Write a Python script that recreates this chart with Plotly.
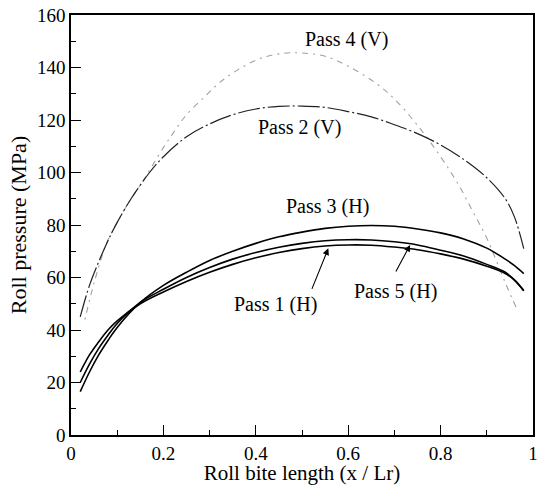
import plotly.graph_objects as go

# ---- data ----
x_pass2 = [0.02, 0.04, 0.06, 0.08, 0.10, 0.13, 0.17, 0.20, 0.25, 0.30, 0.35, 0.40, 0.45, 0.50,
           0.55, 0.60, 0.65, 0.70, 0.75, 0.80, 0.85, 0.90, 0.94, 0.96, 0.98]
y_pass2 = [45, 57, 66, 74, 81, 90, 100, 106, 113.6, 118.5, 122, 124.2, 125.2, 125.3,
           124.8, 123.2, 121.2, 118.2, 114.8, 110.5, 105, 98, 90, 83, 71]

x_pass4 = [0.03, 0.05, 0.077, 0.10, 0.13, 0.153, 0.20, 0.225, 0.25, 0.29, 0.32, 0.36, 0.41,
           0.46, 0.50, 0.55, 0.60, 0.66, 0.70, 0.75, 0.80, 0.84, 0.87, 0.90, 0.94, 0.965]
y_pass4 = [44, 58, 73, 81, 90, 96, 109.5, 116, 122, 129, 134, 139, 143.5,
           145.4, 145.5, 144.3, 140.5, 134, 128, 118, 106, 95, 85, 75, 58, 48]

x_h = [0.02, 0.04, 0.06, 0.08, 0.10, 0.15, 0.20, 0.25, 0.30, 0.35, 0.40, 0.45, 0.50, 0.55,
       0.60, 0.65, 0.70, 0.75, 0.80, 0.85, 0.90, 0.94, 0.96, 0.98]
y_pass1 = [24, 30.5, 35.5, 40, 43.5, 50, 54.5, 58.5, 62, 65, 67.5, 69.5, 71, 72,
           72.4, 72.3, 71.6, 70.6, 69, 67, 64.3, 61.5, 59, 55]
y_pass5 = [20, 27, 33, 38, 42.5, 50.5, 55.5, 60, 63.8, 67, 69.5, 71.5, 73, 74,
           74.4, 74.3, 73.6, 72.4, 70.4, 68.2, 65, 62, 59, 55]
y_pass3 = [16.5, 24, 30.5, 36, 41, 50.5, 57, 62, 66.5, 70, 73, 75.5, 77.3, 78.7,
           79.5, 79.8, 79.5, 78.5, 77, 74.7, 71.2, 67, 64.5, 61.5]

x_tickvals = [0, 0.2, 0.4, 0.6, 0.8, 1]
x_ticktext = ["0", "0.2", "0.4", "0.6", "0.8", "1"]
y_tickvals = [0, 20, 40, 60, 80, 100, 120, 140, 160]
y_ticktext = ["0", "20", "40", "60", "80", "100", "120", "140", "160"]

FONT = "Liberation Serif, Times New Roman, serif"

fig = go.Figure()
fig.add_trace(go.Scatter(x=x_pass4, y=y_pass4, mode="lines", line_shape="spline",
                         line=dict(color="#a0a0a0", width=1.1, dash="2px,5px,6px,5px"),
                         name="Pass 4 (V)"))
fig.add_trace(go.Scatter(x=x_pass2, y=y_pass2, mode="lines", line_shape="spline",
                         line=dict(color="#222222", width=1.2, dash="22px,3px,2px,3px"),
                         name="Pass 2 (V)"))
fig.add_trace(go.Scatter(x=x_h, y=y_pass3, mode="lines", line_shape="spline",
                         line=dict(color="black", width=1.6), name="Pass 3 (H)"))
fig.add_trace(go.Scatter(x=x_h, y=y_pass5, mode="lines", line_shape="spline",
                         line=dict(color="black", width=1.6), name="Pass 5 (H)"))
fig.add_trace(go.Scatter(x=x_h, y=y_pass1, mode="lines", line_shape="spline",
                         line=dict(color="black", width=1.6), name="Pass 1 (H)"))

labels = [
    dict(text="Pass 4 (V)", x=0.597, y=150.5),
    dict(text="Pass 2 (V)", x=0.494, y=117),
    dict(text="Pass 3 (H)", x=0.556, y=86.9),
    dict(text="Pass 1 (H)", x=0.442, y=49.9),
    dict(text="Pass 5 (H)", x=0.703, y=54.5),
]
for a in labels:
    fig.add_annotation(text=a["text"], x=a["x"], y=a["y"], xref="x", yref="y",
                       showarrow=False, font=dict(family=FONT, size=20, color="black"))

# arrows
fig.add_annotation(x=0.557, y=71.1, xref="x", yref="y", ax=-17, ay=42, text="",
                   showarrow=True, arrowhead=2, arrowsize=1.2, arrowwidth=1.1, arrowcolor="black")
fig.add_annotation(x=0.734, y=72.4, xref="x", yref="y", ax=-15, ay=28, text="",
                   showarrow=True, arrowhead=2, arrowsize=1.2, arrowwidth=1.1, arrowcolor="black")

axis_common = dict(showgrid=False, zeroline=False, showline=True, linecolor="black",
                   linewidth=1.5, mirror=True, ticks="inside", tickcolor="black",
                   tickwidth=1.3, ticklen=10, automargin=False,
                   tickfont=dict(family=FONT, size=19, color="black"))

fig.update_xaxes(range=[0, 1], tickvals=x_tickvals, ticktext=x_ticktext,
                 minor=dict(ticks="inside", dtick=0.1, ticklen=5, tickcolor="black", tickwidth=1),
                 title=dict(text="Roll bite length (x / Lr)", standoff=3,
                            font=dict(family=FONT, size=21, color="black")),
                 **axis_common)
fig.update_yaxes(range=[0, 160], tickvals=y_tickvals, ticktext=y_ticktext,
                 minor=dict(ticks="inside", dtick=10, ticklen=5, tickcolor="black", tickwidth=1),
                 title=dict(text="Roll pressure (MPa)", standoff=4,
                            font=dict(family=FONT, size=22, color="black")),
                 **axis_common)

fig.update_layout(width=538, height=485, showlegend=False,
                  margin=dict(l=71, r=5, t=15, b=50),
                  plot_bgcolor="white", paper_bgcolor="white",
                  font=dict(family=FONT, color="black"))

fig.write_html("out.html", config={"displayModeBar": False},
               post_script="document.body.style.margin='0px';document.body.style.overflow='hidden';")
